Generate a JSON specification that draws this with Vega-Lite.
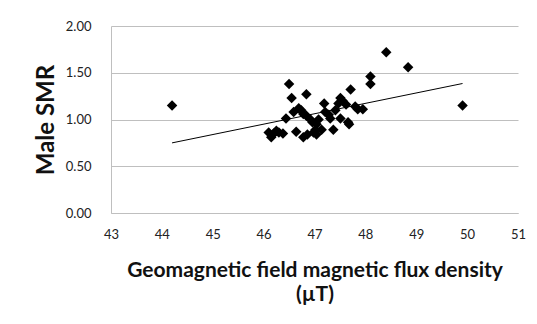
{
  "$schema": "https://vega.github.io/schema/vega-lite/v6.json",
  "autosize": "none",
  "width": 407,
  "height": 187,
  "padding": {"left": 111, "top": 26, "right": 19, "bottom": 111},
  "background": "white",
  "config": {
    "view": {"stroke": null},
    "font": "Lato"
  },
  "datasets": {
    "points": [
      {"x": 44.20, "y": 1.15}, {"x": 49.91, "y": 1.15}, {"x": 48.41, "y": 1.72}, {"x": 48.84, "y": 1.56},
      {"x": 48.10, "y": 1.46}, {"x": 48.10, "y": 1.38}, {"x": 46.50, "y": 1.38}, {"x": 46.55, "y": 1.23},
      {"x": 46.84, "y": 1.27}, {"x": 47.71, "y": 1.32}, {"x": 47.51, "y": 1.23}, {"x": 47.55, "y": 1.20},
      {"x": 47.47, "y": 1.17}, {"x": 47.19, "y": 1.17}, {"x": 47.62, "y": 1.16}, {"x": 47.80, "y": 1.14},
      {"x": 47.85, "y": 1.11}, {"x": 47.95, "y": 1.11}, {"x": 47.41, "y": 1.10}, {"x": 47.21, "y": 1.08},
      {"x": 47.28, "y": 1.05}, {"x": 46.44, "y": 1.01}, {"x": 46.59, "y": 1.08}, {"x": 46.69, "y": 1.12},
      {"x": 46.74, "y": 1.10}, {"x": 46.78, "y": 1.06}, {"x": 46.84, "y": 1.04}, {"x": 46.92, "y": 1.00},
      {"x": 46.96, "y": 0.97}, {"x": 47.04, "y": 0.95}, {"x": 47.08, "y": 1.00}, {"x": 47.31, "y": 1.01},
      {"x": 47.51, "y": 1.01}, {"x": 47.66, "y": 0.97}, {"x": 47.68, "y": 0.95}, {"x": 46.10, "y": 0.86},
      {"x": 46.15, "y": 0.81}, {"x": 46.20, "y": 0.85}, {"x": 46.25, "y": 0.88}, {"x": 46.30, "y": 0.86},
      {"x": 46.38, "y": 0.85}, {"x": 46.64, "y": 0.87}, {"x": 46.78, "y": 0.81}, {"x": 46.86, "y": 0.84},
      {"x": 46.98, "y": 0.86}, {"x": 47.02, "y": 0.89}, {"x": 47.14, "y": 0.89}, {"x": 47.37, "y": 0.89},
      {"x": 47.04, "y": 0.84}
    ],
    "trend": [
      {"x": 44.20, "y": 0.75},
      {"x": 49.91, "y": 1.385}
    ]
  },
  "layer": [
    {
      "data": {"name": "points"},
      "mark": {"type": "point", "shape": "diamond", "filled": true, "color": "black", "opacity": 1, "size": 110},
      "encoding": {
        "x": {
          "field": "x", "type": "quantitative",
          "scale": {"domain": [43, 51], "nice": false, "zero": false},
          "axis": {
            "values": [43, 44, 45, 46, 47, 48, 49, 50, 51],
            "grid": false,
            "ticks": false,
            "domainColor": "#bfbfbf",
            "domainWidth": 1,
            "labelFont": "Lato",
            "labelFontSize": 13,
            "labelColor": "#222222",
            "labelPadding": 15,
            "labelFlush": false,
            "title": ["Geomagnetic field magnetic flux density", "(µT)"],
            "titleFont": "Lato",
            "titleFontSize": 21,
            "titleFontWeight": "bold",
            "titleColor": "#111111",
            "titleLineHeight": 24,
            "titleBaseline": "alphabetic",
            "titleAnchor": "middle",
            "titleX": 203.5,
            "titleY": 63
          }
        },
        "y": {
          "field": "y", "type": "quantitative",
          "scale": {"domain": [0, 2], "nice": false},
          "axis": {
            "values": [0, 0.5, 1, 1.5, 2],
            "format": ".2f",
            "grid": true,
            "gridColor": "#bfbfbf",
            "gridWidth": 1,
            "ticks": false,
            "domainColor": "#bfbfbf",
            "domainWidth": 1,
            "labelFont": "Lato",
            "labelFontSize": 13,
            "labelColor": "#222222",
            "labelPadding": 20,
            "title": "Male SMR",
            "titleFont": "Lato",
            "titleFontSize": 24,
            "titleFontWeight": "bold",
            "titleColor": "#111111",
            "titleAngle": -90,
            "titleBaseline": "alphabetic",
            "titleAnchor": "middle",
            "titleX": -58,
            "titleY": 93.5
          }
        }
      }
    },
    {
      "data": {"name": "trend"},
      "mark": {"type": "line", "color": "black", "strokeWidth": 1},
      "encoding": {
        "x": {"field": "x", "type": "quantitative"},
        "y": {"field": "y", "type": "quantitative"}
      }
    }
  ]
}
